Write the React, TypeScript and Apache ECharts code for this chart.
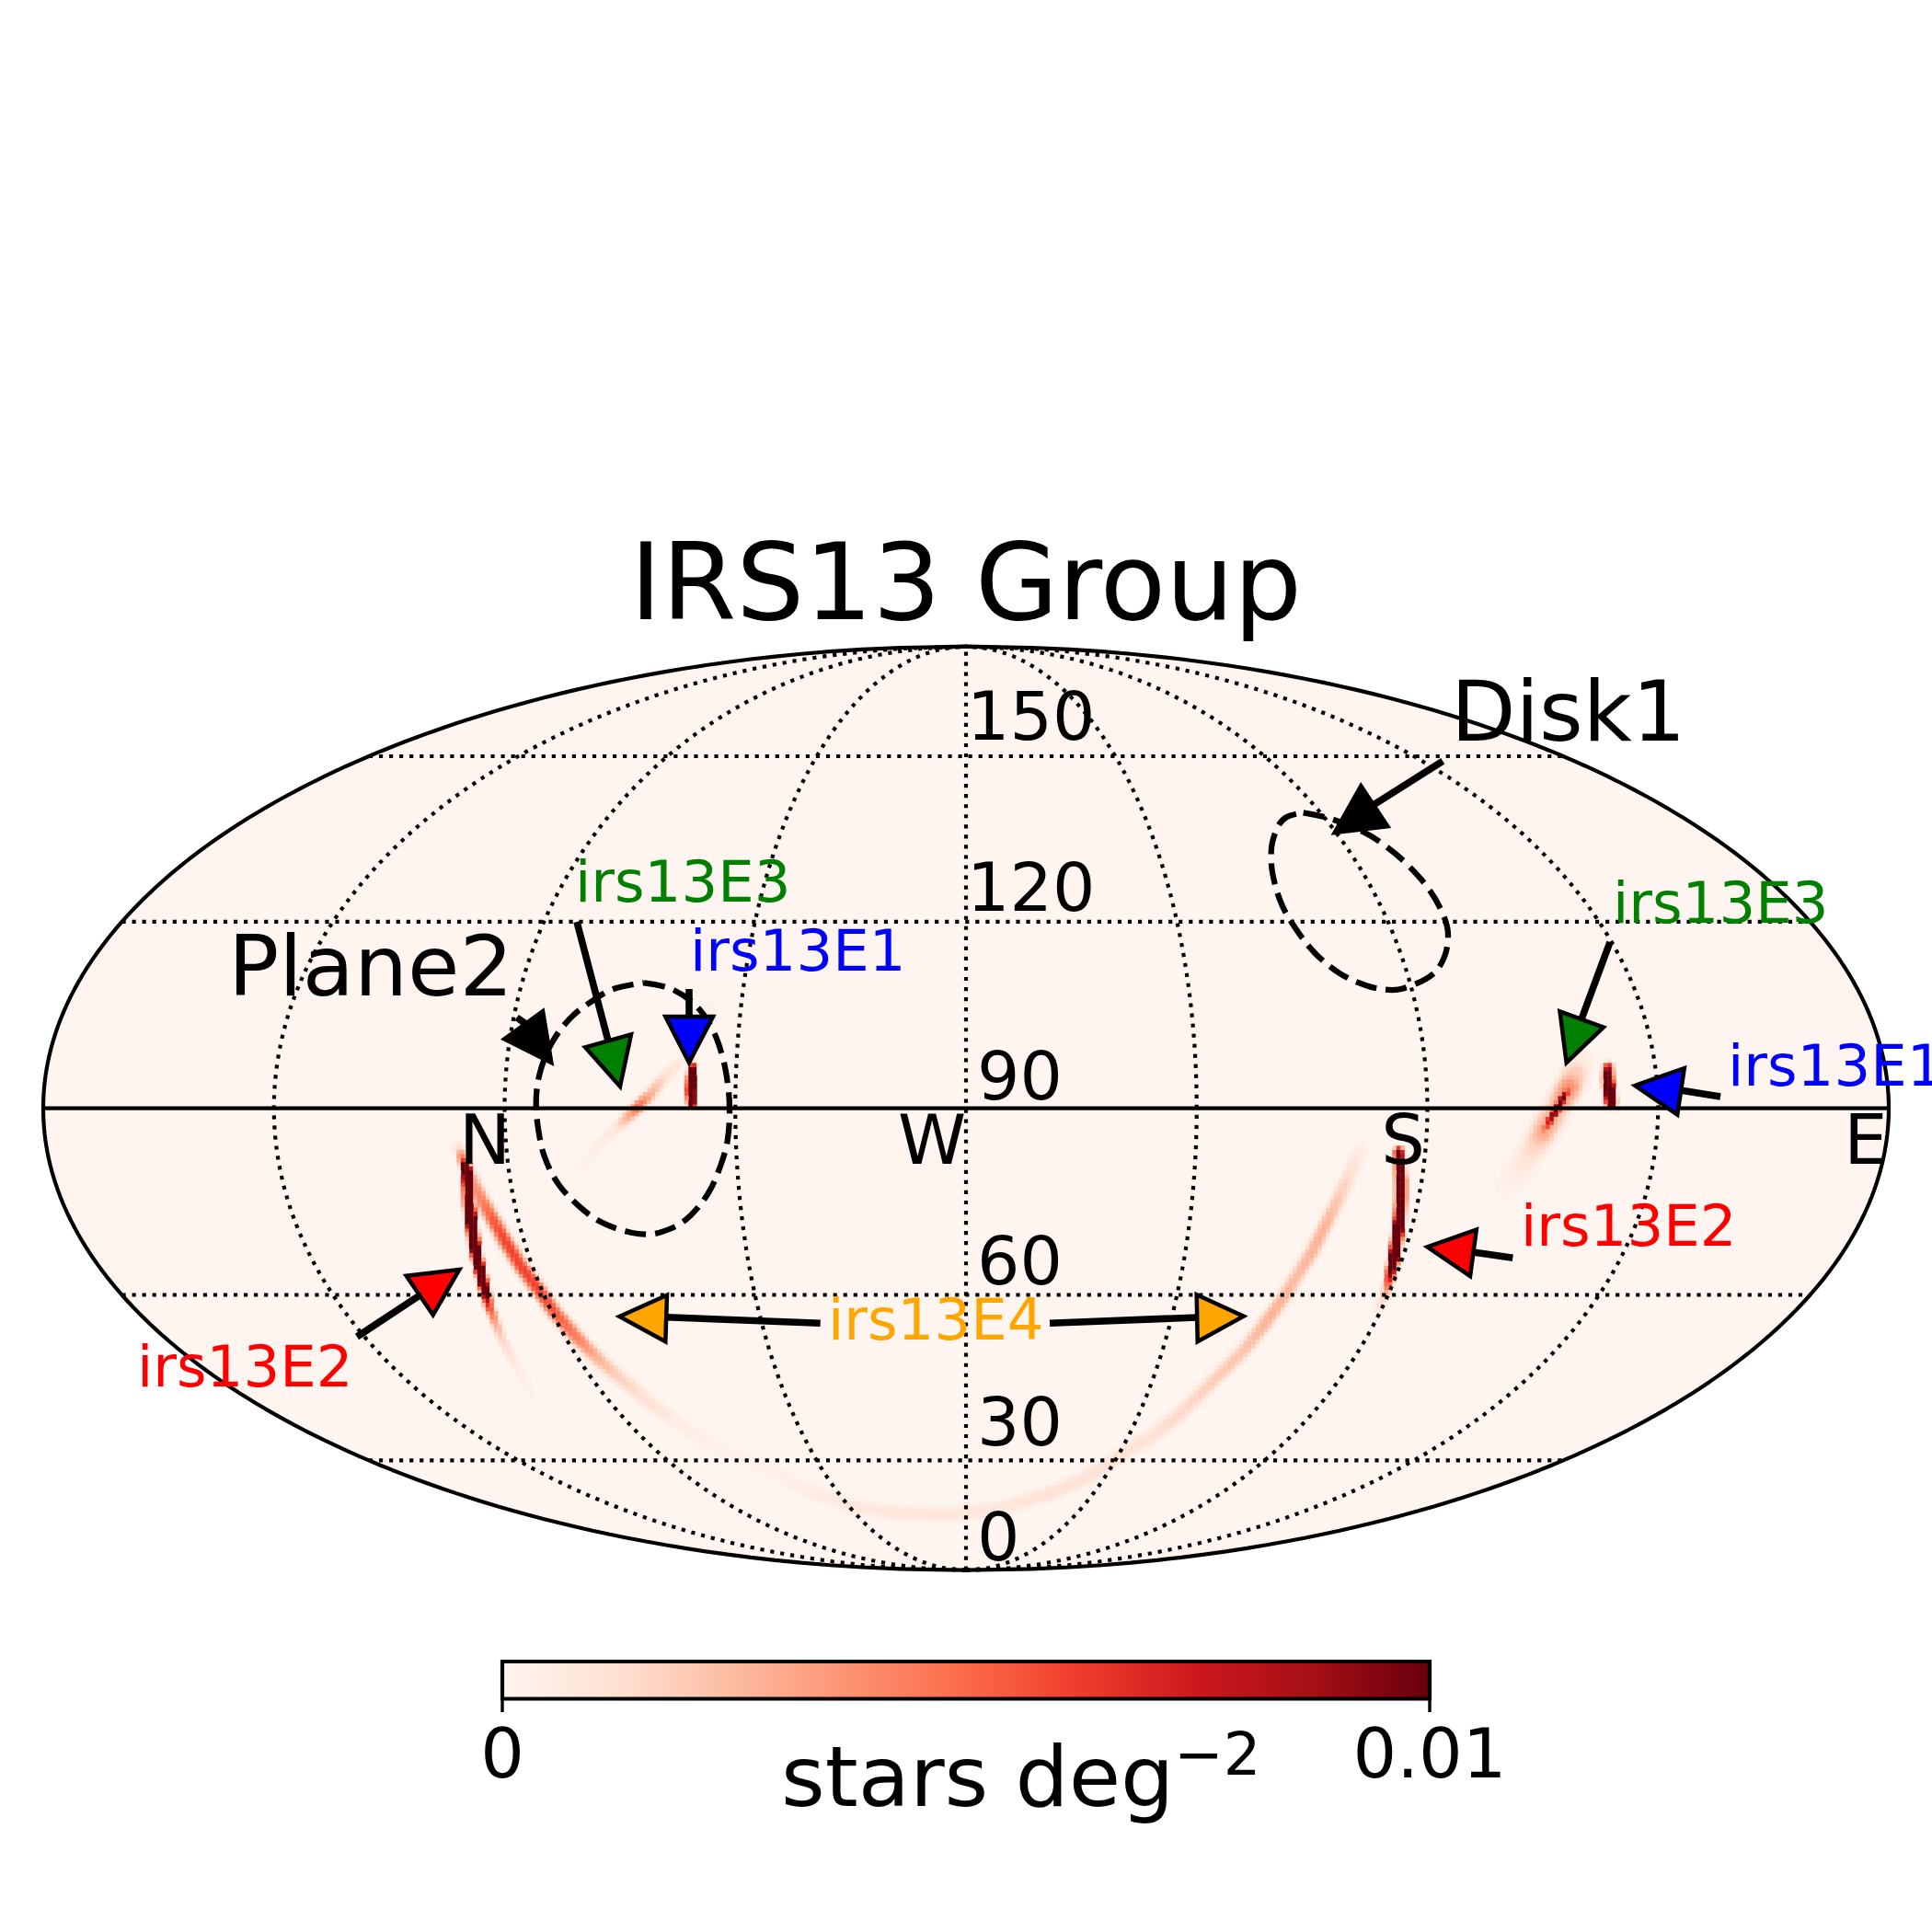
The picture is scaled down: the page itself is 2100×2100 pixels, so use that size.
import React, { useEffect, useRef } from "react";
import * as echarts from "echarts";

const FONT = '"DejaVu Sans"';
const RX = 1003;
const RY = 502;
const CX = 1050;
const CY = 1204.7;
const CELL = 4.5;

const meridianLons = [-135, -90, -45, 0, 45, 90, 135];
const parallelLats = [-60, -30, 30, 60];

const redsStops = ["#fff5f0", "#fee0d2", "#fcbba1", "#fc9272", "#fb6a4a", "#ef3b2c", "#cb181d", "#a50f15", "#67000d"];

// Density streaks: [projected x, projected y, density / colour-bar max]
const e2North = [
  [-551.7, -42, 0.05], [-546.7, -55.3, 0.25], [-542.7, -65.3, 0.8], [-540.7, -85.3, 1], [-540, -105.3, 1],
  [-537.3, -125.3, 1], [-534, -148.7, 1], [-530.7, -165.3, 0.9], [-525, -188.6, 0.75], [-521.7, -202, 0.5],
  [-518.3, -215.3, 0.28], [-511.7, -232, 0.15], [-503.3, -252, 0.07], [-493.3, -272, 0.04], [-480, -295.3, 0.02], [-471.7, -312, 0.01],
];
const e2South = [
  [470.7, -47, 0.5], [471.7, -62, 0.6], [472.7, -78.6, 1], [472.7, -98.6, 1], [471.7, -118.6, 1], [468.3, -142, 1],
  [465.7, -162, 1], [462.3, -175.3, 0.55], [459.3, -190.3, 0.25], [455, -205.3, 0.08], [448.3, -218.6, 0.03],
];
const e4Arc = [
  [-538.3, -75.3, 0.3], [-526.7, -98.6, 0.38], [-513.3, -122, 0.5], [-500, -145.3, 0.55], [-483.3, -172, 0.55],
  [-463.3, -198.6, 0.55], [-446.7, -222, 0.5], [-423.3, -248.6, 0.4], [-400, -272, 0.25], [-373.3, -295.3, 0.15],
  [-343.3, -320.3, 0.1], [-313.3, -342, 0.05], [-273.3, -368.6, 0.025], [-202.7, -398.6, 0.03], [-171.4, -415.3, 0.05],
  [-126.8, -432, 0.07], [-73.2, -440.3, 0.08], [-15.2, -442, 0.08], [38.4, -433.6, 0.08], [87.5, -420.3, 0.1],
  [123.2, -405.3, 0.1], [154.5, -387, 0.1], [185.7, -365.3, 0.1], [200, -358.6, 0.1], [226.7, -337, 0.13], [253.3, -312, 0.15],
  [280, -285.3, 0.18], [303.3, -262, 0.2], [326.7, -232, 0.25], [343.3, -208.6, 0.25], [360, -182, 0.22], [376.7, -155.3, 0.25],
  [390, -128.6, 0.25], [403.3, -102, 0.2], [416.7, -72, 0.12], [430, -43.6, 0.05],
];
const e3East = [
  [655.8, 23, 0.3], [650, 13, 0.85], [642.4, -0.3, 0.9], [634.4, -13.6, 0.7], [626.8, -27, 0.25],
];
const e3EastGlow = [
  [669.2, 51.4, 0.06], [662.5, 38, 0.2], [655.8, 23, 0.38], [650, 13, 0.35], [642.4, -0.3, 0.25], [634.4, -13.6, 0.3],
  [626.8, -27, 0.3], [617.9, -42, 0.16], [606.7, -58.6, 0.08], [586.6, -85.3, 0.03],
];
const e3West = [
  [-266.7, 128, 0.012], [-306.7, 54.7, 0.05], [-326.7, 34.7, 0.12], [-343.3, 14.7, 0.3], [-356.7, 1.4, 0.5],
  [-366.7, -8.6, 0.3], [-380, -22, 0.1], [-396.7, -38.6, 0.05], [-416.7, -65.3, 0.02],
];
const e1East = [[698.2, 44.7, 0.35], [697.8, 36.4, 0.7], [698.2, 26.4, 1], [700.4, 16.4, 1], [701.3, 6.4, 0.95]];
const e1West = [[-296.7, 46.4, 0.35], [-298.3, 34.7, 1], [-299, 18, 1], [-298.3, 4.7, 0.7]];

const plane2Outline = [
  [-350, 136.4], [-320, 129.7], [-293.3, 111.4], [-275, 84.7], [-264.3, 54.7], [-258.7, 24.7], [-257, -2], [-259.3, -35.3],
  [-266.7, -62], [-280, -92], [-300, -117], [-320, -130.3], [-346.7, -137], [-370, -133.6], [-396.7, -123.6], [-420, -107],
  [-443.3, -82], [-458.3, -52], [-465, -22], [-467.3, 4.7], [-463.3, 38], [-450, 71.4], [-430, 98], [-406.7, 116.4], [-383.3, 129.7], [-350, 136.4],
];
const disk1Outline = [
  [366.7, 321.4], [396.7, 314.7], [433.3, 299.7], [456.7, 284.7], [480, 264.7], [503.3, 238], [519, 209.7], [524, 188],
  [520, 164.7], [508, 146.4], [483.3, 133], [463.3, 128.7], [436.7, 133], [406.7, 146.4], [380, 168], [360, 193],
  [343.3, 221.4], [333.3, 254.7], [331.7, 278], [338.3, 304.7], [348.3, 316.4], [366.7, 321.4],
];

// Annotation arrows: colour, shaft start, shaft end, three head vertices
const arrows = [
  { color: "#000000", tail: [-488.3, 98.7], neck: [-476, 90], head: [[-501.7, 75.4], [-460, 105.4], [-450.7, 49.7]] },
  { color: "#008000", tail: [-423, 202.7], neck: [-389, 73.4], head: [[-414, 66.4], [-364, 80.4], [-376, 23.7]] },
  { color: "#0000ff", tail: [-301, 129.7], neck: [-301, 99.7], head: [[-326.7, 99.7], [-275, 99.7], [-301, 49.7]] },
  { color: "#008000", tail: [700, 180.7], neck: [669.2, 97.4], head: [[645.5, 105.4], [692.9, 88], [652.7, 49.7]] },
  { color: "#0000ff", tail: [820, 12.7], neck: [776.3, 19.7], head: [[727.2, 24.7], [780.8, 43.7], [773.2, -7]] },
  { color: "#ff0000", tail: [594.3, -162.6], neck: [550.9, -156.3], head: [[501.5, -150.6], [554.8, -132], [548, -182.3]] },
  { color: "#ffa500", tail: [91, -233.5], neck: [251.7, -227.3], head: [[250.7, -202.6], [301.7, -226], [251.7, -253.6]] },
  { color: "#ffa500", tail: [-158.3, -233.6], neck: [-326, -227], head: [[-376.7, -226.3], [-325, -203], [-326.7, -253.6]] },
  { color: "#ff0000", tail: [-662, -248.3], neck: [-591.7, -202], head: [[-608.3, -182], [-550.7, -175.3], [-579.3, -224.6]] },
  { color: "#000000", tail: [518.3, 377.4], neck: [440, 328], head: [[429.3, 350.4], [458.3, 306.4], [400.7, 299.7]] },
];

const colatitudeLabels = ["150", "120", "90", "60", "30", "0"];
const cardinalLabels = ["N", "W", "S", "E"];
const colorbarTicks = ["0", "0.01"];

function hexToRgb(h: string) {
  return [1, 3, 5].map((i) => parseInt(h.slice(i, i + 2), 16));
}
function reds(v: number) {
  const t = Math.max(0, Math.min(1, v)) * (redsStops.length - 1);
  const i = Math.min(redsStops.length - 2, Math.floor(t));
  const a = hexToRgb(redsStops[i]);
  const b = hexToRgb(redsStops[i + 1]);
  const f = t - i;
  return `rgb(${a.map((c, k) => Math.round(c + (b[k] - c) * f)).join(",")})`;
}

function mollweide(lon: number, lat: number) {
  const phi = (lat * Math.PI) / 180;
  let th = phi;
  if (Math.abs(lat) < 90) {
    for (let i = 0; i < 40; i++) {
      th -= (2 * th + Math.sin(2 * th) - Math.PI * Math.sin(phi)) / (2 + 2 * Math.cos(2 * th));
    }
  }
  return [RX * (lon / 180) * Math.cos(th), RY * Math.sin(th)];
}

function range(a: number, b: number, step: number) {
  const out: number[] = [];
  for (let v = a; v <= b + 1e-9; v += step) out.push(v);
  return out;
}

// Rasterise the read-off streaks on the map's pixel grid, the way the binned sky map looks.
function rasterise(layers: [number[][], number, number][]) {
  const cells = new Map<string, number[]>();
  layers.forEach(([pts, width, gain]) => {
    for (let i = 0; i + 1 < pts.length; i++) {
      const [x0, y0, v0] = pts[i];
      const [x1, y1, v1] = pts[i + 1];
      const pad = 3 * width + CELL;
      const ixA = Math.floor((Math.min(x0, x1) - pad) / CELL);
      const ixB = Math.floor((Math.max(x0, x1) + pad) / CELL);
      const iyA = Math.floor((Math.min(y0, y1) - pad) / CELL);
      const iyB = Math.floor((Math.max(y0, y1) + pad) / CELL);
      const dx = x1 - x0;
      const dy = y1 - y0;
      const len2 = dx * dx + dy * dy;
      for (let ix = ixA; ix <= ixB; ix++) {
        for (let iy = iyA; iy <= iyB; iy++) {
          const px = (ix + 0.5) * CELL;
          const py = (iy + 0.5) * CELL;
          const t = Math.max(0, Math.min(1, ((px - x0) * dx + (py - y0) * dy) / len2));
          const d = Math.hypot(px - x0 - t * dx, py - y0 - t * dy);
          const val = (v0 + (v1 - v0) * t) * gain * Math.exp(-0.5 * (d / width) ** 3);
          if (val < 0.008) continue;
          const key = `${ix},${iy}`;
          const prev = cells.get(key);
          if (!prev || prev[2] < val) cells.set(key, [ix * CELL, iy * CELL, val]);
        }
      }
    }
  });
  return Array.from(cells.values());
}

function label(text: string, x: number, base: number, size: number, fill = "#000", align = "left") {
  return {
    type: "text",
    z: 100,
    silent: true,
    style: {
      text,
      x,
      y: base - 0.346 * size,
      font: `${size}px ${FONT}`,
      fill,
      textAlign: align,
      textVerticalAlign: "middle",
    },
  };
}

function buildOption() {
  const thin = { color: "#000", width: 4.17, type: [4.17, 6.875], cap: "butt" };
  const solid = { color: "#000", width: 4.17, type: "solid" };
  const lineBase = { type: "line", symbol: "none", showSymbol: false, silent: true, clip: false, animation: false };

  const graticule: any[] = [
    ...meridianLons.map((lon) => ({
      ...lineBase,
      z: 5,
      data: range(-90, 90, 1.5).map((lat) => mollweide(lon, lat)),
      lineStyle: thin,
    })),
    ...parallelLats.map((lat) => ({
      ...lineBase,
      z: 5,
      data: [mollweide(-180, lat), mollweide(180, lat)],
      lineStyle: thin,
    })),
    { ...lineBase, z: 5, data: [mollweide(-180, 0), mollweide(180, 0)], lineStyle: solid },
  ];

  const rim = [
    ...range(-90, 90, 1).map((lat) => mollweide(180, lat)),
    ...range(-90, 90, 1).map((lat) => mollweide(-180, -lat)),
  ];

  const cells = rasterise([
    [e3EastGlow, 11, 1],
    [e4Arc, 6.2, 1.1],
    [e3West, 5.2, 1],
    [e3East, 3.6, 1.2],
    [e2North, 4.2, 2.2],
    [e2South, 4.2, 2.2],
    [e1East, 4.4, 2.2],
    [e1West, 3.5, 2.2],
  ]);

  const outlineStyle = { color: "#000", width: 6.25, type: [23.1, 10], cap: "butt" };

  const series: any[] = [
    {
      type: "custom",
      z: 1,
      silent: true,
      animation: false,
      data: [[0, 0]],
      encode: { x: 0, y: 1 },
      renderItem: (_: any, api: any) => ({
        type: "polygon",
        shape: { points: rim.map((p) => api.coord(p)) },
        style: { fill: redsStops[0], stroke: "none" },
      }),
    },
    {
      type: "custom",
      z: 2,
      silent: true,
      animation: false,
      data: cells,
      encode: { x: 0, y: 1 },
      renderItem: (_: any, api: any) => {
        const tl = api.coord([api.value(0), api.value(1) + CELL]);
        const br = api.coord([api.value(0) + CELL, api.value(1)]);
        return {
          type: "rect",
          shape: { x: tl[0] - 0.2, y: tl[1] - 0.2, width: br[0] - tl[0] + 0.4, height: br[1] - tl[1] + 0.4 },
          style: { fill: reds(api.value(2)), stroke: "none" },
        };
      },
    },
    ...graticule,
    { ...lineBase, z: 6, data: rim, lineStyle: solid },
    { ...lineBase, z: 6, smooth: 0.35, data: plane2Outline, lineStyle: outlineStyle },
    { ...lineBase, z: 6, smooth: 0.35, data: disk1Outline, lineStyle: outlineStyle },
    {
      type: "custom",
      z: 7,
      silent: true,
      animation: false,
      data: arrows.map(() => [0, 0]),
      encode: { x: 0, y: 1 },
      renderItem: (params: any, api: any) => {
        const a = arrows[params.dataIndex];
        const t = api.coord(a.tail);
        const n = api.coord(a.neck);
        return {
          type: "group",
          children: [
            {
              type: "line",
              shape: { x1: t[0], y1: t[1], x2: n[0], y2: n[1] },
              style: { stroke: "#000", lineWidth: 7.6, lineCap: "butt" },
            },
            {
              type: "polygon",
              shape: { points: a.head.map((p) => api.coord(p)) },
              style: { fill: a.color, stroke: "#000", lineWidth: 4.5, lineJoin: "miter" },
            },
          ],
        };
      },
    },
  ];

  const colatBaselines = [804, 990, 1195, 1396, 1571, 1696];
  const colatLeft = [1051, 1051, 1062, 1062, 1062, 1062];
  const cardinalX = [527, 1013, 1525, 2028];

  const graphic: any[] = [
    label("IRS13 Group", CX, 673, 116.7, "#000", "center"),
    label("Plane2", 248, 1082, 91.7),
    label("Disk1", 1577, 805, 91.7),
    label("irs13E3", 625, 980, 62.5, "#008000"),
    label("irs13E1", 750, 1055, 62.5, "#0000ff"),
    label("irs13E3", 1753, 1003, 62.5, "#008000"),
    label("irs13E1", 1878, 1180, 62.5, "#0000ff"),
    label("irs13E2", 1653, 1354, 62.5, "#ff0000"),
    label("irs13E4", 900, 1456, 62.5, "#ffa500"),
    label("irs13E2", 149, 1507, 62.5, "#ff0000"),
    ...colatitudeLabels.map((t, i) => label(t, colatLeft[i], colatBaselines[i], 73)),
    ...cardinalLabels.map((t, i) => label(t, cardinalX[i], 1265, 75, "#000", "center")),
    {
      type: "rect",
      z: 100,
      silent: true,
      shape: { x: 546, y: 1806, width: 1008, height: 40.5 },
      style: {
        fill: new echarts.graphic.LinearGradient(
          0, 0, 1, 0,
          redsStops.map((color, i) => ({ offset: i / (redsStops.length - 1), color })),
        ),
        stroke: "#000",
        lineWidth: 4.17,
      },
    },
    ...[546, 1554].map((x) => ({
      type: "line",
      z: 100,
      silent: true,
      shape: { x1: x, y1: 1846, x2: x, y2: 1861 },
      style: { stroke: "#000", lineWidth: 3.4 },
    })),
    label(colorbarTicks[0], 546, 1932, 75, "#000", "center"),
    label(colorbarTicks[1], 1554, 1932, 75, "#000", "center"),
    label("stars deg", 849, 1963, 91.7),
    label("\u22122", 1276, 1929, 64),
  ];

  return {
    animation: false,
    backgroundColor: "#ffffff",
    grid: { left: CX - RX, top: CY - RY, width: 2 * RX, height: 2 * RY, show: false },
    xAxis: { type: "value", min: -RX, max: RX, show: false },
    yAxis: { type: "value", min: -RY, max: RY, show: false },
    series,
    graphic,
  };
}

export default function App() {
  const ref = useRef<HTMLDivElement>(null);
  useEffect(() => {
    const chart = echarts.init(ref.current!, undefined, { renderer: "svg" });
    chart.setOption(buildOption() as any);
    return () => chart.dispose();
  }, []);
  return <div ref={ref} style={{ position: "fixed", left: 0, top: 0, width: 2100, height: 2100, background: "#fff" }} />;
}
